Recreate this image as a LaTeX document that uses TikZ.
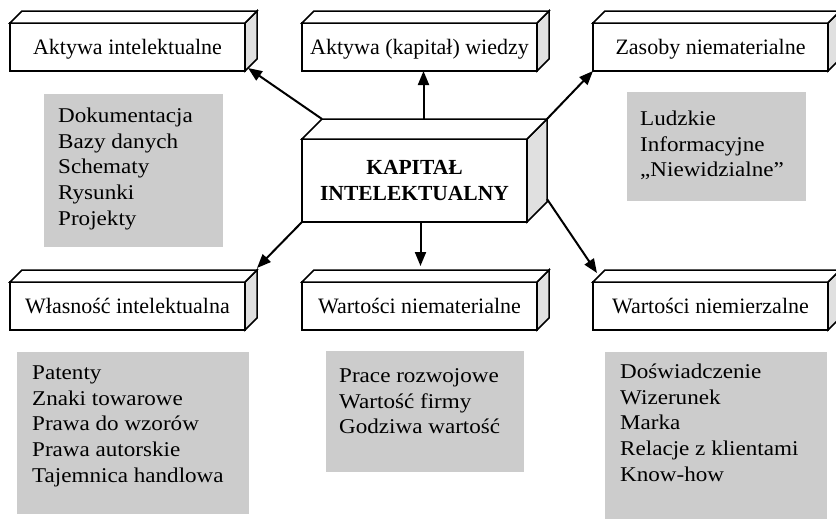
\documentclass[tikz,border=0pt]{standalone}
\usepackage{fontspec}
\setmainfont{Liberation Serif}
\newfontfamily\listafont[FakeStretch=1.1]{Liberation Serif}
\usetikzlibrary{arrows.meta}

\definecolor{szary}{HTML}{CCCCCC}
\definecolor{bok}{HTML}{E0E0E0}

\tikzset{
  blok/.style={draw, line width=1.5pt, fill=white, minimum width=235pt, minimum height=48pt,
    inner sep=0pt, outer sep=0pt, font=\fontsize{22}{26}\selectfont, text height=19pt, text depth=4pt},
  srodek/.style={draw, line width=1.5pt, fill=white, minimum width=225pt, minimum height=83pt,
    inner sep=0pt, outer sep=0pt, align=center, font=\fontsize{21.5}{26}\selectfont\bfseries},
  sciana/.style={draw, line width=1.5pt},
  tlo/.style={fill=szary, anchor=north west, inner sep=0pt, outer sep=0pt},
  lista/.style={anchor=north west, inner sep=0pt, align=left, font=\listafont\fontsize{21}{25.7}\selectfont},
  strzalka/.style={line width=2pt, -{Triangle[length=14pt,width=11pt]}}
}

\begin{document}
\begin{tikzpicture}[x=1pt, y=-1pt]
\useasboundingbox (0,0) rectangle (836,520);

% bloki
\node[blok] (ai) at (127.5,47) {Aktywa intelektualne};
\node[blok] (aw) at (419.5,47) {Aktywa (kapitał) wiedzy};
\node[blok] (zn) at (710.5,47) {Zasoby niematerialne};
\node[srodek] (ki) at (414.5,180.5) {KAPITAŁ\\INTELEKTUALNY};
\node[blok] (wi) at (127.5,306) {Własność intelektualna};
\node[blok] (wn) at (419.5,306) {Wartości niematerialne};
\node[blok] (wz) at (710.5,306) {Wartości niemierzalne};

% sciany boczne i gorne
\foreach \n/\d in {ai/12,aw/12,zn/12,wi/12,wn/12,wz/12,ki/20}{
  \draw[sciana, fill=bok] (\n.north east) -- ++(\d,-\d) -- ([shift={(\d,-\d)}]\n.south east) -- (\n.south east) -- cycle;
  \draw[sciana, fill=white] (\n.north west) -- ++(\d,-\d) -- ([shift={(\d,-\d)}]\n.north east) -- (\n.north east) -- cycle;
}

% narozniki bloku srodkowego
\coordinate (kil) at ([shift={(20,-20)}]ki.north west);
\coordinate (kip) at ([shift={(20,-20)}]ki.north east);
\coordinate (kib) at ([shift={(20,-23)}]ki.south east);

% strzalki
\draw[strzalka] (kil) -- ([shift={(3,-3)}]ai.south east);
\draw[strzalka] ([xshift=4pt]kil -| aw.south) -- ([xshift=4pt]aw.south);
\draw[strzalka] (kip) -- (zn.south west);
\draw[strzalka] (ki.south west) -- ([shift={(12,-14)}]wi.north east);
\draw[strzalka] ([xshift=1pt]ki.south -| wn.north) -- ([shift={(1,-16)}]wn.north);
\draw[strzalka] (kib) -- ([shift={(4,-9)}]wz.north west);

% tla
\node[tlo, minimum width=179pt, minimum height=153pt] (tai) at (44,94) {};
\node[tlo, minimum width=179pt, minimum height=109pt] (tzn) at (627,92) {};
\node[tlo, minimum width=232pt, minimum height=162pt] (twi) at (17,352) {};
\node[tlo, minimum width=198pt, minimum height=121pt] (twn) at (326,351) {};
\node[tlo, minimum width=222pt, minimum height=167pt] (twz) at (605,352) {};

% listy
\node[lista] (lai) at ([shift={(14,13.7)}]tai.north west) {Dokumentacja\\Bazy danych\\Schematy\\Rysunki\\Projekty};
\node[lista] (lzn) at ([shift={(13,18.7)}]tzn.north west) {Ludzkie\\Informacyjne\\„Niewidzialne”};
\node[lista] (lwi) at ([shift={(15,13.4)}]twi.north west) {Patenty\\Znaki towarowe\\Prawa do wzorów\\Prawa autorskie\\Tajemnica handlowa};
\node[lista] (lwn) at ([shift={(13,17.4)}]twn.north west) {Prace rozwojowe\\Wartość firmy\\Godziwa wartość};
\node[lista] (lwz) at ([shift={(15,11.5)}]twz.north west) {Doświadczenie\\Wizerunek\\Marka\\Relacje z klientami\\Know-how};

\end{tikzpicture}
\end{document}
